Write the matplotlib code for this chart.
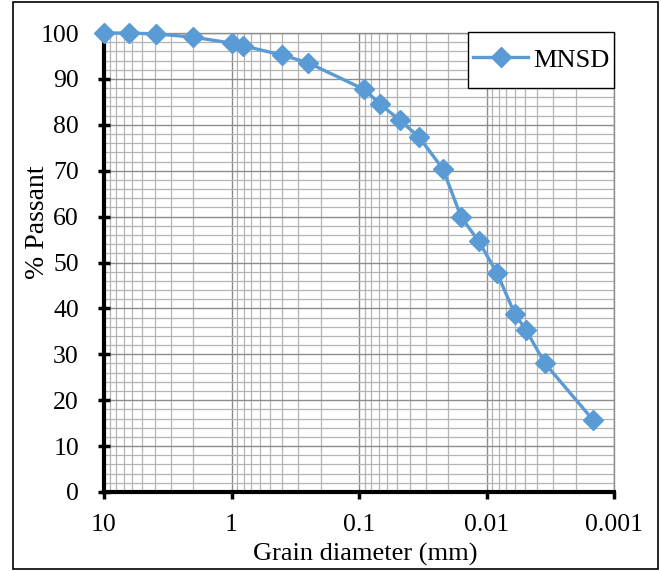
"""Grain size distribution curve (MNSD), reversed log x-axis."""

import matplotlib
matplotlib.use("Agg")
import matplotlib.pyplot as plt
from matplotlib.patches import Rectangle
from matplotlib.ticker import FixedLocator, LogLocator, NullFormatter, MultipleLocator

# ─── Data ────────────────────────────────────────────────────────────────────
diameter_mm = [10, 6.4, 3.9, 2.0, 1.0, 0.81, 0.40, 0.25, 0.091, 0.068,
               0.048, 0.034, 0.022, 0.0158, 0.0115, 0.0083, 0.0060, 0.0049,
               0.0035, 0.00146]
passing_pct = [100, 100, 99.8, 99.1, 97.8, 97.2, 95.2, 93.5, 87.7, 84.5,
               81.0, 77.4, 70.4, 59.9, 54.6, 47.8, 38.8, 35.3, 28.1, 15.7]
series_name = "MNSD"
x_ticks = [10, 1, 0.1, 0.01, 0.001]
x_ticklabels = ["10", "1", "0.1", "0.01", "0.001"]

plt.rcParams["font.family"] = ["Liberation Serif", "DejaVu Serif"]

W, H = 661, 571
fig = plt.figure(figsize=(W / 100, H / 100), dpi=100)
ax = fig.add_axes([104 / W, 1 - 492 / H, 510 / W, 459 / H])


def fig_box(x0, y0, x1, y1):
    """Pixel box (top-left origin) -> figure-fraction (x, y, w, h)."""
    return x0 / W, 1 - y1 / H, (x1 - x0) / W, (y1 - y0) / H


# outer frame around the whole figure
x, y, w, h = fig_box(13, 2, 658, 569)
fig.patches.append(Rectangle((x, y), w, h, transform=fig.transFigure,
                             fill=False, edgecolor="black", linewidth=1.2))

ax.plot(diameter_mm, passing_pct, color="#5B9BD5", linewidth=2.4,
        marker="D", markersize=10, label=series_name, zorder=5, clip_on=False)

ax.set_xscale("log")
ax.set_xlim(10, 0.001)
ax.set_ylim(0, 100)

ax.xaxis.set_major_locator(FixedLocator(x_ticks))
ax.set_xticklabels(x_ticklabels)
ax.xaxis.set_minor_locator(LogLocator(base=10, subs=range(2, 10)))
ax.xaxis.set_minor_formatter(NullFormatter())
ax.yaxis.set_major_locator(MultipleLocator(10))
ax.yaxis.set_minor_locator(MultipleLocator(2))

ax.grid(which="major", color="#8c8c8c", linewidth=1.0)
ax.grid(which="minor", color="#b4b4b4", linewidth=0.9)
ax.set_axisbelow(True)

for side in ("top", "right"):
    ax.spines[side].set_color("#8c8c8c")
    ax.spines[side].set_linewidth(1.0)
for side in ("left", "bottom"):
    ax.spines[side].set_color("black")
    ax.spines[side].set_linewidth(3.0)

ax.tick_params(axis="y", which="major", direction="inout", length=8, width=2.5,
               labelsize=18.5, pad=14)
ax.tick_params(axis="x", which="major", direction="out", length=5, width=2.5,
               labelsize=18.5, pad=11)
ax.tick_params(which="minor", length=0)

ax.set_xlabel("Grain diameter (mm)", fontsize=19)
ax.xaxis.set_label_coords(0.513, -0.111)
ax.set_ylabel("% Passant", fontsize=20)
ax.yaxis.set_label_coords(-0.106, 0.588)

# legend: square black box hugging the top-right corner, as in the reference
x, y, w, h = fig_box(468, 32, 614, 88)
fig.patches.append(Rectangle((x, y), w, h, transform=fig.transFigure,
                             facecolor="white", edgecolor="black",
                             linewidth=1.0, zorder=10))
leg = fig.legend(loc="center left", bbox_to_anchor=(473 / W, 1 - 60 / H),
                 fontsize=19, frameon=False, borderaxespad=0, borderpad=0,
                 handlelength=2.1, handletextpad=0.2)
leg.set_zorder(11)

fig.savefig("out.png", dpi=100)
